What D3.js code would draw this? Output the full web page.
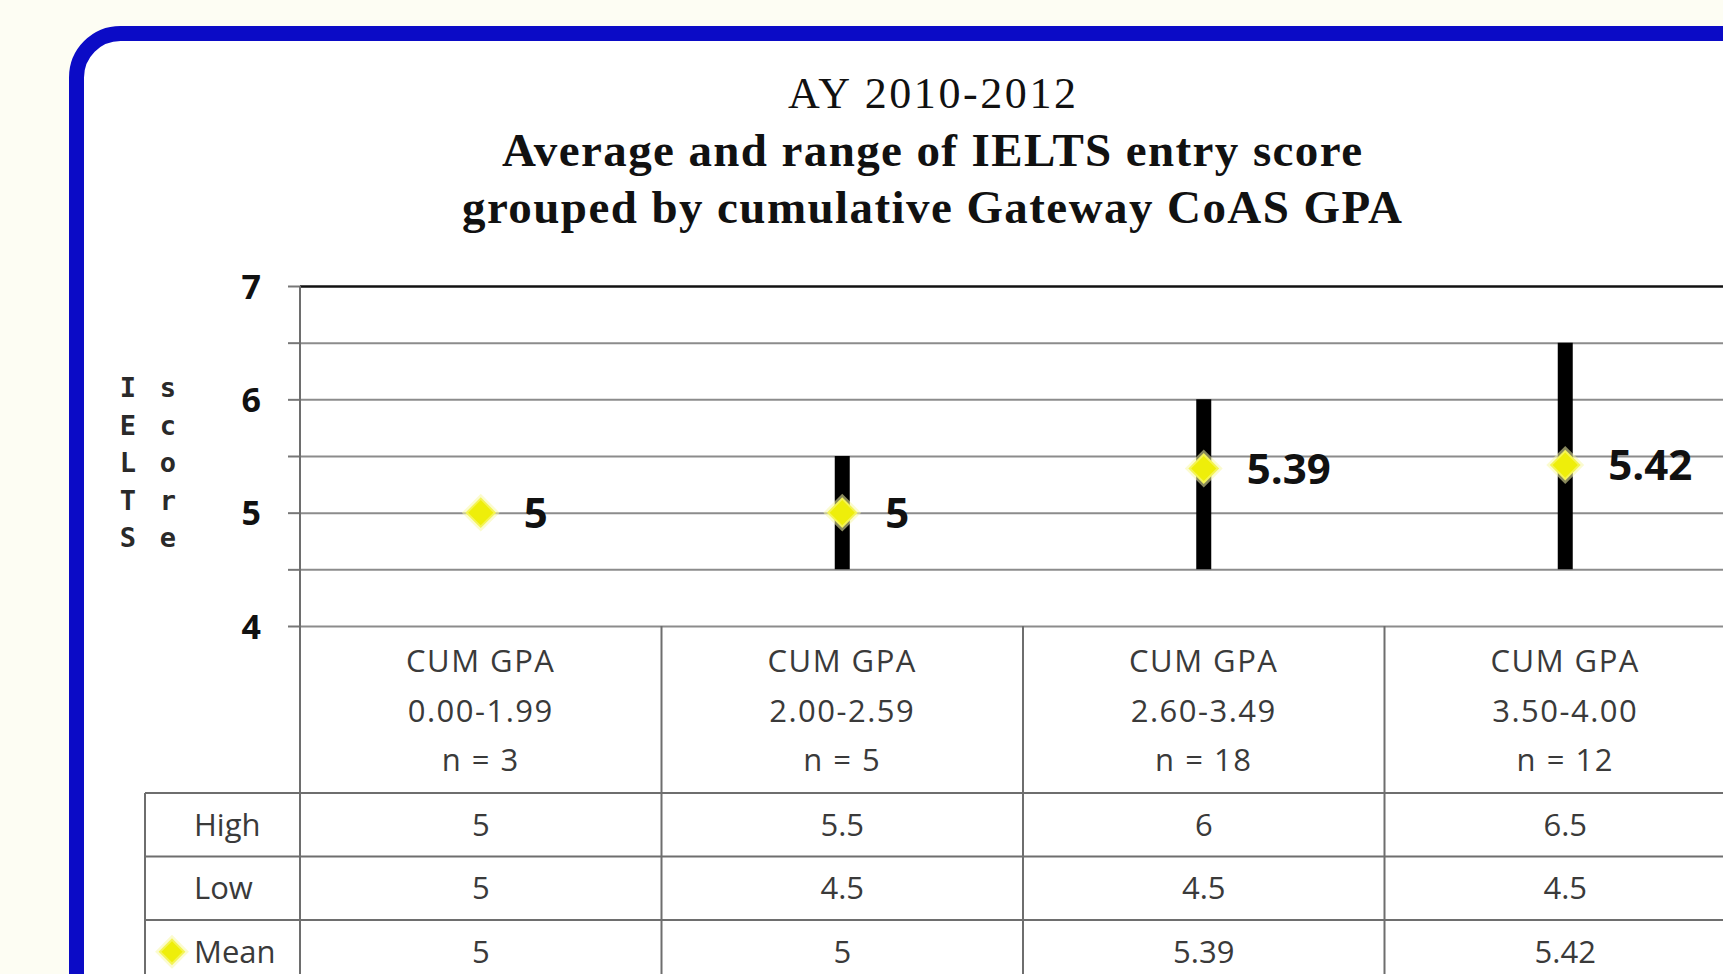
<!DOCTYPE html>
<html>
<head>
<meta charset="utf-8">
<script src="https://cdn.jsdelivr.net/npm/d3@7"></script>
<style>
  body { margin: 0; background: #fdfdf3; overflow: hidden; }
  .grid line { stroke: #8c8c8c; stroke-width: 2; }
  .grid path { display: none; }
  .tbl-line { stroke: #6e6e6e; stroke-width: 2; fill: none; }
  .cell-text { font-family: 'Open Sans', sans-serif; font-size: 31px; fill: #3a3a3a; }
</style>
</head>
<body>
<div id="chart"></div>
<script>
// Chart data
const titleLines = ['AY 2010-2012', 'Average and range of IELTS entry score', 'grouped by cumulative Gateway CoAS GPA'];
const gpaRanges = ['0.00-1.99', '2.00-2.59', '2.60-3.49', '3.50-4.00'];
const sampleSizes = [3, 5, 18, 12];
const highValues = [5, 5.5, 6, 6.5];
const lowValues = [5, 4.5, 4.5, 4.5];
const meanValues = [5, 5, 5.39, 5.42];
const yTickLabels = [4, 5, 6, 7];
const rowLabels = ['High', 'Low', 'Mean'];

class RangeChart {
    constructor(_config) {
        this.config = {
            parentElement: _config.parentElement,
            containerWidth: 1723,
            containerHeight: 974,
            plotLeft: 300,
            plotRight: 1746,
            plotTop: 286,
            plotBottom: 626,
            tableLeft: 145,
            rowTop: 793,
            rowHeight: 63.5
        };
        this.initVis();
    }

    initVis() {
        let vis = this;
        const c = vis.config;

        vis.svg = d3.select(c.parentElement).append('svg')
            .attr('width', c.containerWidth)
            .attr('height', c.containerHeight);

        // blue rounded frame (runs off the right and bottom edge)
        vis.svg.append('rect')
            .attr('x', 76.5).attr('y', 33.5)
            .attr('width', 2000).attr('height', 1400)
            .attr('rx', 44).attr('ry', 44)
            .attr('fill', '#fff')
            .attr('stroke', '#0b0bc6')
            .attr('stroke-width', 15);

        vis.x = d3.scaleBand().domain(gpaRanges).range([c.plotLeft, c.plotRight]);
        vis.y = d3.scaleLinear().domain([4, 7]).range([c.plotBottom, c.plotTop]);

        vis.renderVis();
    }

    renderVis() {
        let vis = this;
        const c = vis.config;
        const halfTicks = d3.range(4, 7.01, 0.5);

        // title
        const titleWidths = [288, 860, 940];
        vis.svg.selectAll('.title-line')
            .data(titleLines)
          .join('text')
            .attr('class', 'title-line')
            .attr('x', 932)
            .attr('y', (d, i) => 108 + i * 57.5)
            .attr('text-anchor', 'middle')
            .attr('font-family', "'Liberation Serif', 'Times New Roman', serif")
            .attr('font-size', (d, i) => i === 0 ? 44 : 47)
            .attr('font-weight', (d, i) => i === 0 ? 'normal' : 'bold')
            .attr('fill', '#111')
            .attr('textLength', (d, i) => titleWidths[i])
            .attr('lengthAdjust', 'spacing')
            .text(d => d);

        // gridlines every 0.5
        const grid = vis.svg.append('g')
            .attr('class', 'grid')
            .attr('transform', `translate(${c.plotLeft},0)`)
            .call(d3.axisLeft(vis.y).tickValues(halfTicks).tickSize(-(c.plotRight - c.plotLeft)).tickFormat(''));
        grid.selectAll('line').filter(d => d === 7)
            .style('stroke', '#111').style('stroke-width', 2.5);

        // y axis with ticks at 0.5, labels on whole numbers
        const yAxis = vis.svg.append('g')
            .attr('transform', `translate(${c.plotLeft},0)`)
            .call(d3.axisLeft(vis.y).tickValues(halfTicks).tickSize(12).tickPadding(0)
                .tickFormat(d => yTickLabels.includes(d) ? d : ''));
        yAxis.select('.domain').remove();
        yAxis.selectAll('line').attr('stroke', '#777').attr('stroke-width', 2);
        yAxis.selectAll('text')
            .attr('x', -39)
            .attr('dy', '0.36em')
            .attr('font-family', "'Open Sans', sans-serif")
            .attr('font-size', 34)
            .attr('font-weight', 'bold')
            .attr('fill', '#111');

        // vertical axis line, continues down as the table border
        vis.svg.append('line')
            .attr('class', 'tbl-line')
            .attr('x1', c.plotLeft).attr('x2', c.plotLeft)
            .attr('y1', c.plotTop).attr('y2', c.containerHeight);

        // y axis title, stacked letters in two columns
        const axisTitle = [['I', 'E', 'L', 'T', 'S'], ['s', 'c', 'o', 'r', 'e']];
        axisTitle.forEach((letters, col) => {
            vis.svg.append('g').selectAll('text')
                .data(letters)
              .join('text')
                .attr('x', col === 0 ? 128 : 168)
                .attr('y', (d, i) => 397 + i * 37.5)
                .attr('text-anchor', 'middle')
                .attr('font-family', "'DejaVu Sans Mono', monospace")
                .attr('font-size', 27)
                .attr('font-weight', 'bold')
                .attr('fill', '#2a2a2a')
                .text(d => d);
        });

        // range bars (low to high)
        vis.svg.selectAll('.range-bar')
            .data(gpaRanges)
          .join('line')
            .attr('class', 'range-bar')
            .attr('x1', d => vis.x(d) + vis.x.bandwidth() / 2)
            .attr('x2', d => vis.x(d) + vis.x.bandwidth() / 2)
            .attr('y1', (d, i) => vis.y(lowValues[i]))
            .attr('y2', (d, i) => vis.y(highValues[i]))
            .attr('stroke', '#000')
            .attr('stroke-width', 15);

        // mean markers
        const diamond = d3.symbol().type(d3.symbolSquare);
        const drawDiamond = (sel, halfDiag) => {
            sel.append('path')
                .attr('d', diamond.size(Math.pow(halfDiag * Math.SQRT2 + 7, 2))())
                .attr('transform', 'rotate(45)')
                .attr('fill', '#f8f8a8')
                .attr('opacity', 0.55);
            sel.append('path')
                .attr('d', diamond.size(Math.pow(halfDiag * Math.SQRT2, 2))())
                .attr('transform', 'rotate(45)')
                .attr('fill', '#eeee0a')
                .attr('stroke', '#f4f455')
                .attr('stroke-width', 2);
        };

        const marks = vis.svg.selectAll('.mean-mark')
            .data(gpaRanges)
          .join('g')
            .attr('class', 'mean-mark')
            .attr('transform', (d, i) => `translate(${vis.x(d) + vis.x.bandwidth() / 2},${vis.y(meanValues[i])})`);
        marks.each(function() { drawDiamond(d3.select(this), 14); });

        vis.svg.selectAll('.mean-label')
            .data(gpaRanges)
          .join('text')
            .attr('class', 'mean-label')
            .attr('x', d => vis.x(d) + vis.x.bandwidth() / 2 + 43)
            .attr('y', (d, i) => vis.y(meanValues[i]))
            .attr('dy', '0.36em')
            .attr('font-family', "'Open Sans', sans-serif")
            .attr('font-size', 42)
            .attr('font-weight', 'bold')
            .attr('fill', '#111')
            .text((d, i) => meanValues[i]);

        // data table: column dividers and row lines
        vis.svg.selectAll('.col-divider')
            .data(gpaRanges.slice(1))
          .join('line')
            .attr('class', 'tbl-line col-divider')
            .attr('x1', d => vis.x(d)).attr('x2', d => vis.x(d))
            .attr('y1', c.plotBottom).attr('y2', c.containerHeight);

        vis.svg.selectAll('.row-line')
            .data(rowLabels)
          .join('line')
            .attr('class', 'tbl-line row-line')
            .attr('x1', c.tableLeft).attr('x2', c.plotRight)
            .attr('y1', (d, i) => c.rowTop + i * c.rowHeight)
            .attr('y2', (d, i) => c.rowTop + i * c.rowHeight);

        vis.svg.append('line')
            .attr('class', 'tbl-line')
            .attr('x1', c.tableLeft).attr('x2', c.tableLeft)
            .attr('y1', c.rowTop).attr('y2', c.containerHeight);

        // category headers
        const headers = vis.svg.selectAll('.cat-header')
            .data(gpaRanges)
          .join('text')
            .attr('class', 'cell-text cat-header')
            .attr('text-anchor', 'middle')
            .attr('letter-spacing', 1.5);
        headers.selectAll('tspan')
            .data((d, i) => ['CUM GPA', d, `n = ${sampleSizes[i]}`].map(t => ({ t, x: vis.x(d) + vis.x.bandwidth() / 2 })))
          .join('tspan')
            .attr('x', d => d.x)
            .attr('y', (d, i) => 672 + i * 49.5)
            .text(d => d.t);

        // row labels
        vis.svg.selectAll('.row-label')
            .data(rowLabels)
          .join('text')
            .attr('class', 'cell-text row-label')
            .attr('x', 194)
            .attr('y', (d, i) => c.rowTop + (i + 0.5) * c.rowHeight)
            .attr('dy', '0.36em')
            .text(d => d);

        const keyG = vis.svg.append('g')
            .attr('transform', `translate(172,${c.rowTop + 2.5 * c.rowHeight})`);
        drawDiamond(keyG, 12);

        // table values
        const rows = [highValues, lowValues, meanValues];
        rows.forEach((vals, r) => {
            vis.svg.append('g').selectAll('text')
                .data(gpaRanges)
              .join('text')
                .attr('class', 'cell-text')
                .attr('text-anchor', 'middle')
                .attr('x', d => vis.x(d) + vis.x.bandwidth() / 2)
                .attr('y', c.rowTop + (r + 0.5) * c.rowHeight)
                .attr('dy', '0.36em')
                .text((d, i) => vals[i]);
        });
    }
}

new RangeChart({ parentElement: '#chart' });
</script>
</body>
</html>
